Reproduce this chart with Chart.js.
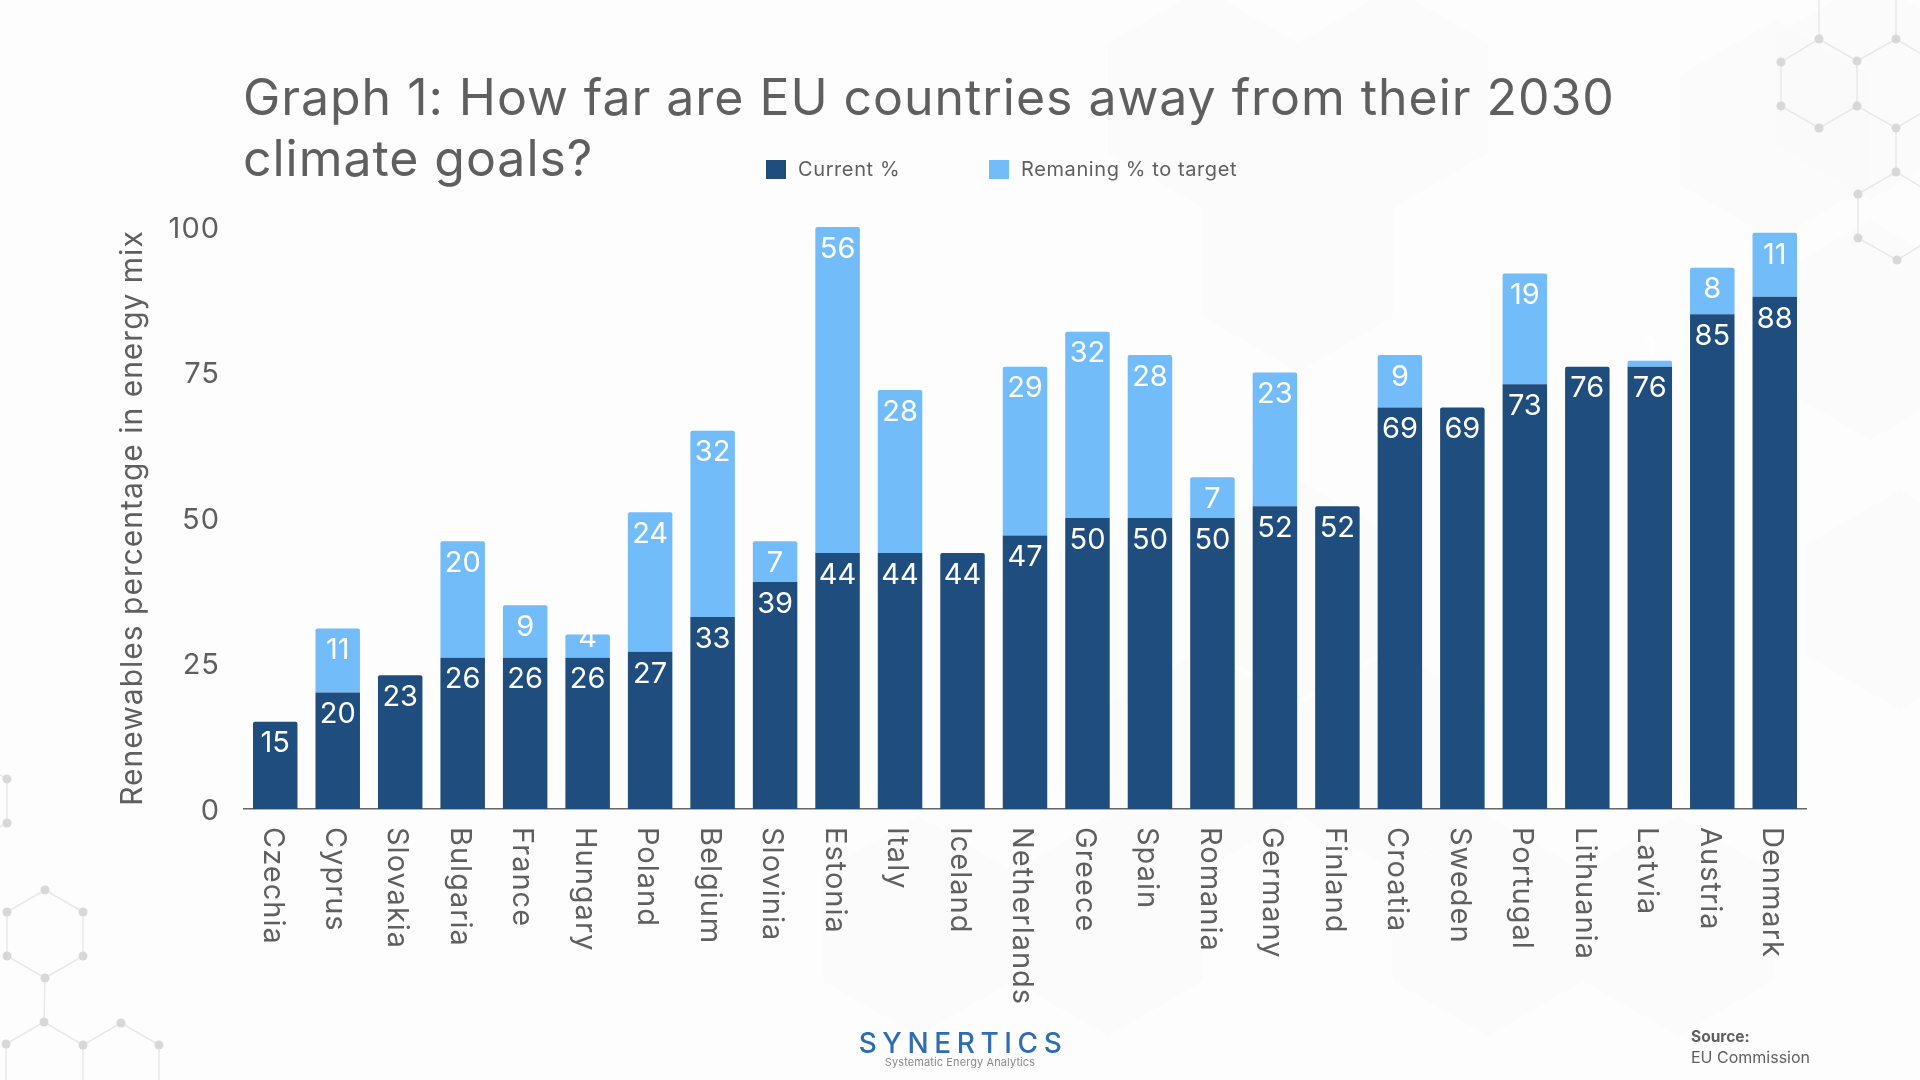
<!DOCTYPE html>
<html>
<head>
<meta charset="utf-8">
<title>Graph 1</title>
<script src="https://cdn.jsdelivr.net/npm/chart.js@4"></script>
<style>
  html, body { margin: 0; padding: 0; background: #fdfdfd; }
  #stage { position: relative; width: 1920px; height: 1080px; overflow: hidden; font-family: 'Inter', sans-serif; color: #5f5f5f; }
  #stage svg, #stage canvas { position: absolute; left: 0; top: 0; }
  #title { position: absolute; left: 243px; top: 67px; margin: 0; font-size: 50px; font-weight: 400; line-height: 61px; letter-spacing: 0.95px; width: 1500px; white-space: nowrap; }
  #legend { position: absolute; top: 160px; left: 0; font-size: 20px; letter-spacing: 0.6px; }
  .key { position: absolute; top: 0; display: flex; align-items: center; white-space: nowrap; line-height: 19px; }
  .key i { display: block; width: 20px; height: 19px; margin-right: 12px; }
  #logo { position: absolute; left: 855px; top: 1028px; width: 216px; text-align: center; color: #2f6db3; font-size: 28px; line-height: 30px; letter-spacing: 5.6px; font-weight: 500; white-space: nowrap; }
  #tagline { position: absolute; left: 855px; top: 1056px; width: 210px; text-align: center; color: #8a8a8a; font-size: 11px; line-height: 13px; letter-spacing: 0.1px; white-space: nowrap; }
  #source { position: absolute; left: 1691px; top: 1027px; font-size: 16px; line-height: 20px; }
  #source b { display: block; font-weight: 700; font-size: 15.5px; }
</style>
</head>
<body>
<div id="stage">
  <svg id="backdrop" width="1920" height="1080" xmlns="http://www.w3.org/2000/svg"></svg>
  <canvas id="chart" width="1920" height="1080"></canvas>
  <h1 id="title">Graph 1: How far are EU countries away from their 2030<br>climate goals?</h1>
  <div id="legend"></div>
  <div id="logo">SYNERTICS</div>
  <div id="tagline">Systematic Energy Analytics</div>
  <div id="source"><b>Source:</b>EU Commission</div>
</div>
<script>
'use strict';

const countries = ['Czechia', 'Cyprus', 'Slovakia', 'Bulgaria', 'France', 'Hungary', 'Poland', 'Belgium', 'Slovinia', 'Estonia', 'Italy', 'Iceland', 'Netherlands', 'Greece', 'Spain', 'Romania', 'Germany', 'Finland', 'Croatia', 'Sweden', 'Portugal', 'Lithuania', 'Latvia', 'Austria', 'Denmark'];
const currentShare = [15, 20, 23, 26, 26, 26, 27, 33, 39, 44, 44, 44, 47, 50, 50, 50, 52, 52, 69, 69, 73, 76, 76, 85, 88];
const remainingShare = [0, 11, 0, 20, 9, 4, 24, 32, 7, 56, 28, 0, 29, 32, 28, 7, 23, 0, 9, 0, 19, 0, 1, 8, 11];
const yTicks = [0, 25, 50, 75, 100];
const seriesNames = ['Current %', 'Remaning % to target'];

const DARK = '#1e4d7e';
const LIGHT = '#72bcfa';
const GREY = '#5f5f5f';
const FONT = "'Inter', sans-serif";

/* ─── Backdrop: faint hexagons and molecule nets ─────────── */
const bigHexagons = [[1298, 262], [1203, 98], [1393, 98], [1870, 90], [1870, 330], [1775, 130], [1298, 590], [1203, 760], [1393, 760], [1488, 926], [1108, 926], [1678, 926], [1900, 600], [918, 926]];
const netLinks = [
  [[1819, 0], [1819, 39]], [[1896, 0], [1896, 39]], [[1819, 39], [1781, 62]], [[1781, 62], [1781, 106]], [[1781, 106], [1819, 128]],
  [[1819, 128], [1857, 106]], [[1857, 106], [1857, 61]], [[1857, 61], [1819, 39]], [[1857, 61], [1896, 39]], [[1896, 39], [1920, 53]],
  [[1857, 106], [1896, 128]], [[1896, 128], [1920, 114]], [[1896, 128], [1896, 172]], [[1896, 172], [1858, 194]], [[1896, 172], [1920, 186]],
  [[1858, 194], [1858, 238]], [[1858, 238], [1897, 260]], [[1897, 260], [1920, 246]],
  [[7, 779], [7, 823]], [[0, 775], [7, 779]], [[7, 823], [0, 827]], [[7, 912], [7, 956]], [[7, 912], [45, 890]], [[45, 890], [83, 912]], [[83, 912], [83, 956]],
  [[83, 956], [45, 978]], [[45, 978], [7, 956]], [[45, 978], [44, 1022]], [[44, 1022], [6, 1044]], [[44, 1022], [83, 1045]], [[83, 1045], [121, 1023]],
  [[121, 1023], [159, 1045]], [[6, 1044], [6, 1080]], [[83, 1045], [83, 1080]], [[159, 1045], [159, 1080]],
];
const netNodes = [[1819, 39], [1781, 62], [1781, 106], [1819, 128], [1857, 106], [1857, 61], [1896, 39], [1896, 128], [1896, 172], [1858, 194], [1858, 238], [1897, 260],
  [7, 779], [7, 823], [7, 912], [45, 890], [83, 912], [83, 956], [45, 978], [7, 956], [44, 1022], [6, 1044], [83, 1045], [121, 1023], [159, 1045]];

function drawBackdrop() {
  let markup = '';
  bigHexagons.forEach(([cx, cy]) => {
    const r = 110, w = 95;
    const pts = [[cx, cy - r], [cx + w, cy - r / 2], [cx + w, cy + r / 2], [cx, cy + r], [cx - w, cy + r / 2], [cx - w, cy - r / 2]];
    markup += `<polygon points="${pts.join(' ')}" fill="#f6f6f6" fill-opacity="0.22"/>`;
  });
  netLinks.forEach(([a, b]) => {
    markup += `<line x1="${a[0]}" y1="${a[1]}" x2="${b[0]}" y2="${b[1]}" stroke="#e9e9e9" stroke-width="1.5"/>`;
  });
  netNodes.forEach(([x, y]) => {
    markup += `<circle cx="${x}" cy="${y}" r="4.5" fill="#d8d8d8"/>`;
  });
  document.getElementById('backdrop').innerHTML = markup;
}

/* ─── Legend ─────────────────────────────────────────────── */
function drawLegend() {
  const lefts = [766, 989];
  const colors = [DARK, LIGHT];
  document.getElementById('legend').innerHTML = seriesNames.map((name, i) =>
    `<div class="key" style="left:${lefts[i]}px"><i style="background:${colors[i]}"></i>${name}</div>`).join('');
}

/* ─── Wider tracking for the axis text ───────────────────── */
const axisTracking = {
  id: 'axisTracking',
  beforeDraw(chart) { chart.ctx.letterSpacing = '1px'; },
};

/* ─── Value labels inside the bars ───────────────────────── */
const barLabels = {
  id: 'barLabels',
  afterDatasetsDraw(chart) {
    const { ctx } = chart;
    ctx.save();
    ctx.letterSpacing = '0px';
    ctx.fillStyle = '#ffffff';
    ctx.font = `400 29px ${FONT}`;
    ctx.textAlign = 'center';
    ctx.textBaseline = 'middle';
    chart.data.datasets.forEach((ds, d) => {
      chart.getDatasetMeta(d).data.forEach((bar, i) => {
        if (!ds.data[i]) return;
        const y = Math.min(bar.y + 22, bar.base - 19);
        ctx.fillText(String(ds.data[i]), bar.x, y);
      });
    });
    ctx.restore();
  },
};

drawBackdrop();
drawLegend();

new Chart(document.getElementById('chart'), {
  type: 'bar',
  data: {
    labels: countries,
    datasets: [
      {
        label: seriesNames[0],
        data: currentShare,
        backgroundColor: DARK,
        borderSkipped: false,
        borderRadius: (c) => (remainingShare[c.dataIndex] ? 0 : { topLeft: 2, topRight: 2 }),
      },
      {
        label: seriesNames[1],
        data: remainingShare,
        backgroundColor: LIGHT,
        borderSkipped: false,
        borderRadius: { topLeft: 2, topRight: 2 },
      },
    ],
  },
  options: {
    responsive: false,
    animation: false,
    devicePixelRatio: 1,
    layout: { padding: { left: 0, right: 114, top: 227, bottom: 0 } },
    datasets: { bar: { categoryPercentage: 1, barPercentage: 0.712 } },
    plugins: { legend: { display: false }, tooltip: { enabled: false } },
    scales: {
      x: {
        stacked: true,
        grid: { display: false, drawTicks: false },
        border: { display: true, color: '#666666', width: 1.5 },
        afterDataLimits: (scale) => { scale._getXAxisLabelAlignment = () => 'left'; },
        afterFit: (scale) => { scale.height = 271; },
        ticks: {
          color: GREY,
          font: { family: FONT, size: 29, weight: '400' },
          minRotation: -90,
          maxRotation: -90,
          autoSkip: false,
          padding: 18,
          labelOffset: -3,
        },
      },
      y: {
        stacked: true,
        min: 0,
        max: 100,
        grid: { display: false, drawTicks: false },
        border: { display: false },
        afterFit: (scale) => { scale.width = 244; },
        afterBuildTicks: (scale) => { scale.ticks = yTicks.map((value) => ({ value })); },
        ticks: {
          color: GREY,
          font: { family: FONT, size: 29, weight: '400' },
          padding: 24,
          labelOffset: 2,
        },
        title: {
          display: true,
          text: 'Renewables percentage in energy mix',
          color: GREY,
          font: { family: FONT, size: 30, weight: '400', lineHeight: 1.2 },
          padding: { top: 115 },
        },
      },
    },
  },
  plugins: [axisTracking, barLabels],
});
</script>
</body>
</html>
